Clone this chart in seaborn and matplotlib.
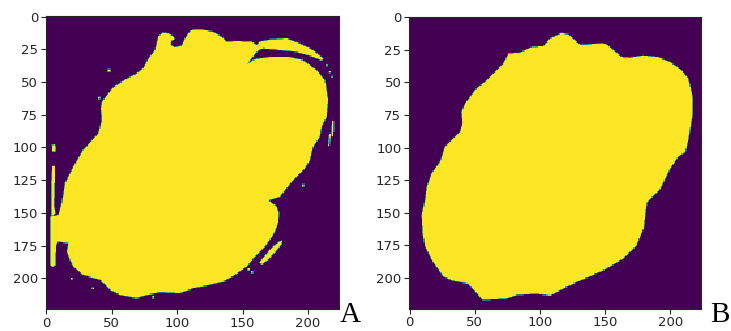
import numpy as np
import matplotlib
matplotlib.use("Agg")
import matplotlib.pyplot as plt
from matplotlib.path import Path
import seaborn as sns

N = 224

# Panel A: main region outline (x, y in pixel coordinates)
a_main_x = [89, 93, 97, 98.5, 96, 95, 98, 103.5, 106, 110, 114, 118, 127.6, 134, 138, 145, 157,
            161, 163, 160, 156, 154, 158, 161, 171, 186, 196, 207, 213, 215.6, 214.3, 210.5, 209.2,
            204.1, 201.6, 197, 188.8, 178.6, 170, 176, 178, 177.3, 173.5, 167.2, 159.5, 153.2, 144.2,
            136.6, 125, 112.3, 102.2, 86.9, 76.7, 69, 56.3, 48.7, 41, 28.2, 20.6, 18, 15.5, 16.8,
            9, 7.5, 7, 4.5, 3, 3, 9.1, 11.7, 14.3, 20.6, 28, 39.7, 42.3, 41.5, 42.5, 51, 62, 68, 74,
            78, 83, 85.6]
a_main_y = [12, 12.5, 15, 17, 18, 21, 23.5, 22, 16.5, 10.7, 9.7, 9.7, 11.5, 15.3, 19, 18.5, 19,
            21.5, 25, 28, 33, 36, 33, 32, 30.6, 30.6, 33, 41, 48.4, 63.7, 76.5, 84.1, 91.8,
            99.4, 109.6, 117, 124.9, 137.6, 140.5, 145, 150, 158, 166.9, 175.9, 183.5, 191.2, 197.5,
            201.9, 205.2, 207.7, 211.5, 210.8, 212.8, 215.3, 212.8, 209, 201.3, 197.5, 191.2, 186, 179.7, 173.3,
            172, 175, 190, 191.5, 190, 153, 151.6, 142.7, 127.4, 114.7, 102, 89.2, 79, 70, 65, 54, 47, 44, 39.5,
            32, 25.5, 15]
# Panel A: thin arc at upper right
a_arc_x = [161, 163, 171, 184, 194, 204, 212, 210.5, 204, 191, 179, 166, 163]
a_arc_y = [21.5, 19, 17.3, 16.5, 20.4, 25.5, 32, 33.5, 30.6, 26.8, 25.5, 24.2, 25]
# Panel A: lower-right elongated fragment
a_frag_x = [162.8, 167, 172, 178, 180.7, 180, 175, 170, 165]
a_frag_y = [188, 183, 177, 172, 171, 174, 180, 185.5, 189.5]
# Panel A: left strip and blob
a_strip_x = [4.5, 6.5, 6.3, 5.8, 7, 4, 3.7, 4]
a_strip_y = [114.5, 114, 130, 145, 150, 153, 140, 125]
a_blob_x = [4.3, 6.5, 7.3, 7, 4.6]
a_blob_y = [98, 97.5, 100, 103, 103]
# Panel A: right edge strips
a_right1_x = [218.5, 220, 219.5, 218]
a_right1_y = [79, 80, 92, 91]
a_right2_x = [216.5, 217.6, 216.5, 215.6]
a_right2_y = [89, 90, 99.4, 98]
# Panel A: small specks (pairs of corners)
a_specks_x = [47, 49, 39.5, 41, 154, 155.5, 18.5, 20, 35, 36.5, 81, 82.5, 156.5, 158, 195.5, 197,
              213.8, 215, 216.3, 217.5, 218, 219.3]
a_specks_y = [40, 42, 61, 63, 192.5, 194, 199.5, 201, 207, 208.5, 213.5, 215, 194.5, 196, 128, 130,
              36.5, 37.7, 41.5, 42.7, 45.3, 46.5]

# Panel B: smooth region outline
b_x = [116.6, 121.7, 130.7, 135.8, 147.3, 151.1, 162.6, 169, 179.2, 190.7, 199.7, 208.7, 213.7,
       215, 217, 217, 214, 211.5, 206, 200, 192, 182, 181, 179.5, 174, 164, 149, 133, 118, 108,
       97, 82, 74, 56, 51, 45, 33, 25.8, 16.9, 11.8, 10, 9.2, 11.8, 13.1, 16.9, 23.3, 27.1, 33.5,
       38.6, 40.7, 39.9, 42.5, 51, 59.1, 71.8, 75.7, 84.6, 93.6, 102.5, 107.6]
b_y = [12.2, 13.3, 21.1, 21.1, 19.9, 20.9, 30.6, 31.1, 29.3, 30.6, 34.4, 40.8, 47.1,
       52, 61, 75, 93, 103.6, 107, 116, 132, 142, 150, 162, 175, 185, 194, 201, 208, 213.5,
       212, 213, 216, 217, 211, 204.6, 202, 198.8, 186, 175.9, 165.6, 151.6, 140.2, 130, 119.8, 110.9, 99.4, 93,
       87.9, 81.5, 72.6, 66.2, 55, 48.4, 35.7, 28, 27.3, 23, 22.4, 16.5]

xticks = [0, 50, 100, 150, 200]
yticks = [0, 25, 50, 75, 100, 125, 150, 175, 200]


def raster(polys, ss=3):
    g = (np.arange(N * ss) + 0.5) / ss - 0.5
    gx, gy = np.meshgrid(g, g)
    pts = np.column_stack([gx.ravel(), gy.ravel()])
    m = np.zeros(len(pts), bool)
    for px, py in polys:
        m |= Path(np.column_stack([px, py])).contains_points(pts)
    m = m.reshape(N * ss, N * ss).astype(float)
    return m.reshape(N, ss, N, ss).mean(axis=(1, 3))


def specks(xs, ys):
    out = []
    for i in range(0, len(xs), 2):
        x0, x1, y0, y1 = xs[i], xs[i + 1], ys[i], ys[i + 1]
        out.append(([x0, x1, x1, x0], [y0, y0, y1, y1]))
    return out


mask_a = raster([(a_main_x, a_main_y), (a_arc_x, a_arc_y), (a_frag_x, a_frag_y),
                 (a_strip_x, a_strip_y), (a_blob_x, a_blob_y),
                 (a_right1_x, a_right1_y), (a_right2_x, a_right2_y)] + specks(a_specks_x, a_specks_y))
mask_b = raster([(b_x, b_y)])

fig = plt.figure(figsize=(7.31, 3.31), dpi=100)
ax_a = fig.add_axes([0.0625, 0.0665, 0.4008, 0.885])
ax_b = fig.add_axes([0.5595, 0.0665, 0.3995, 0.885])

for ax, m in ((ax_a, mask_a), (ax_b, mask_b)):
    sns.heatmap(m, ax=ax, cmap="viridis", vmin=0, vmax=1, cbar=False,
                xticklabels=False, yticklabels=False)
    ax.set_aspect("equal")
    ax.set_xticks([t + 0.5 for t in xticks])
    ax.set_xticklabels([str(t) for t in xticks], rotation=0, fontsize=9.5, color="#262626")
    ax.set_yticks([t + 0.5 for t in yticks])
    ax.set_yticklabels([str(t) for t in yticks], rotation=0, fontsize=9.5, color="#262626")
    ax.tick_params(length=3.5, width=0.8, color="#262626", pad=2)
    for s in ax.spines.values():
        s.set_visible(True)
        s.set_color("#262626")
        s.set_linewidth(0.8)

fig.text(0.479, 0.048, "A", fontsize=21, family="Liberation Serif", ha="center", va="center")
fig.text(0.985, 0.048, "B", fontsize=21, family="Liberation Serif", ha="center", va="center")

fig.savefig("out.png", dpi=100)
